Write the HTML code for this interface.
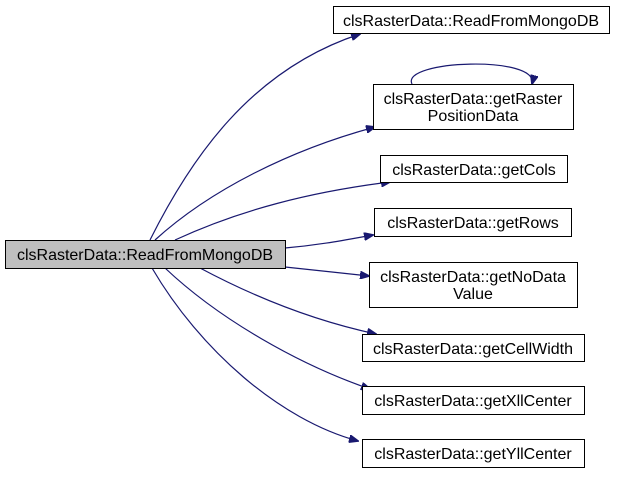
<!DOCTYPE html>
<html><head><style>body{margin:0;background:#fff}</style></head><body>
<svg width="619" height="473" xmlns="http://www.w3.org/2000/svg" font-family="Liberation Sans, sans-serif" font-size="16">
<defs><marker id="a" markerWidth="10" markerHeight="8" refX="9" refY="4" orient="auto" markerUnits="userSpaceOnUse"><path d="M0,0L10,4L0,8z" fill="#191970" stroke="#191970"/></marker></defs>
<g fill="none" stroke="#191970" stroke-width="1.2" marker-end="url(#a)">
<path d="M150,240 C190,160 250,70 360,34"/>
<path d="M155,240 C210,190 290,150 375,127"/>
<path d="M175,240 C240,210 310,192 390,182"/>
<path d="M285,248 C320,245 345,240 373,235"/>
<path d="M285,267 C315,270 340,273 369,276"/>
<path d="M200,268 C260,300 320,322 376,334"/>
<path d="M165,268 C220,320 300,365 370,389"/>
<path d="M152,268 C200,350 280,420 358,441"/>
<path d="M412,84 C400,60 540,55 532,84"/>
</g>
<g stroke="#000" fill="#fff">
<rect x="5.5" y="240.5" width="280" height="28" fill="#bfbfbf"/>
<rect x="333.5" y="6.5" width="276" height="27"/>
<rect x="373.5" y="84.5" width="200" height="45"/>
<rect x="380.5" y="155.5" width="187" height="27"/>
<rect x="374.5" y="208.5" width="197" height="28"/>
<rect x="369.5" y="262.5" width="208" height="45"/>
<rect x="362.5" y="334.5" width="222" height="27"/>
<rect x="362.5" y="386.5" width="222" height="28"/>
<rect x="362.5" y="439.5" width="222" height="28"/>
</g>
<g text-anchor="middle" fill="#000">
<text x="145" y="260">clsRasterData::ReadFromMongoDB</text>
<text x="471" y="26">clsRasterData::ReadFromMongoDB</text>
<text x="473" y="104">clsRasterData::getRaster</text>
<text x="473" y="121">PositionData</text>
<text x="474" y="175">clsRasterData::getCols</text>
<text x="473" y="228">clsRasterData::getRows</text>
<text x="473" y="282">clsRasterData::getNoData</text>
<text x="473" y="299">Value</text>
<text x="473" y="354">clsRasterData::getCellWidth</text>
<text x="473" y="406">clsRasterData::getXllCenter</text>
<text x="473" y="459">clsRasterData::getYllCenter</text>
</g>
</svg>
</body></html>
